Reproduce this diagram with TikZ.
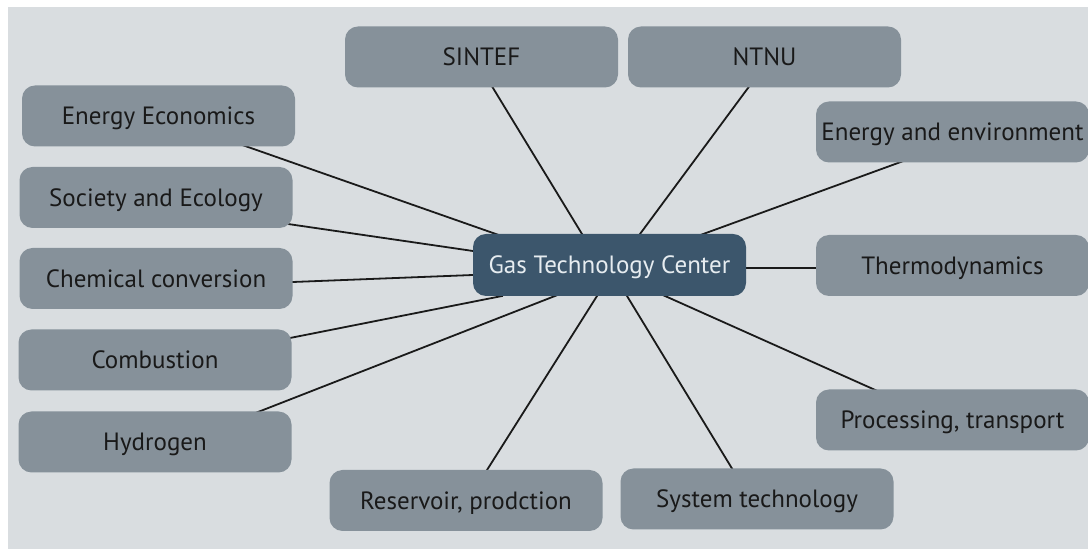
\documentclass[tikz,border=0pt]{standalone}
\usepackage{fontspec}
\setmainfont{PT Sans}
\usepackage{tikz}
\usetikzlibrary{calc}

\definecolor{panel}{HTML}{D9DDE0}
\definecolor{topicbox}{HTML}{86919A}
\definecolor{hubbox}{HTML}{3C566C}
\definecolor{hubtext}{HTML}{E6ECF0}
\definecolor{linkcol}{HTML}{1A1A1A}

\pgfdeclarelayer{bg}
\pgfdeclarelayer{edges}
\pgfsetlayers{bg,edges,main}

\tikzset{
  topic/.style={fill=topicbox,rounded corners=6.5pt,minimum width=136.5pt,minimum height=30.5pt,
    inner sep=0pt,text depth=0pt,text=black!90,font=\fontsize{12.5}{14}\selectfont},
  hub/.style={topic,fill=hubbox,text=hubtext,minimum height=31pt},
  link/.style={draw=linkcol,line width=0.9pt,shorten <=-3pt,shorten >=-3pt}
}

\begin{document}
\begin{tikzpicture}[x=0.5pt,y=-0.5pt]
\useasboundingbox (0,0) rectangle (1088,549);
\begin{pgfonlayer}{bg}
\fill[panel] (8,7) rectangle (1088,549);
\end{pgfonlayer}

\node[hub] (gtc) at (609.5,265) {Gas Technology Center};
\node[topic] (sintef) at (481.5,57) {SINTEF};
\node[topic] (ntnu) at (764.5,57) {NTNU};
\node[topic] (ee) at (158.5,116) {Energy Economics};
\node[topic] (soc) at (156,197.5) {Society and Ecology};
\node[topic] (chem) at (156,278.5) {Chemical conversion};
\node[topic] (comb) at (155,360) {Combustion};
\node[topic] (hyd) at (155,442) {Hydrogen};
\node[topic] (env) at (952.5,132) {Energy and environment};
\node[topic] (thermo) at (952.5,265.5) {Thermodynamics};
\node[topic] (proc) at (952.5,420) {Processing, transport};
\node[topic] (res) at (466,500.5) {Reservoir, prodction};
\node[topic] (sys) at (757,499) {System technology};

\begin{pgfonlayer}{edges}
\path[link] ([shift={(89.5,31)}]ee.center) -- ([shift={(-116.5,-32)}]gtc.center);
\path[link] ([shift={(132,26.5)}]soc.center) -- ([shift={(-136.5,-14)}]gtc.center);
\path[link] ([shift={(137,3.5)}]chem.center) -- ([shift={(-136.5,10)}]gtc.center);
\path[link] ([shift={(135,-22)}]comb.center) -- ([shift={(-112.5,32)}]gtc.center);
\path[link] ([shift={(103,-30)}]hyd.center) -- ([shift={(-54.5,31)}]gtc.center);
\path[link] ([shift={(11.5,31)}]sintef.center) -- ([shift={(-27.5,-31)}]gtc.center);
\path[link] ([shift={(-16.5,31)}]ntnu.center) -- ([shift={(30.5,-31)}]gtc.center);
\path[link] ([shift={(-54.5,31)}]env.center) -- ([shift={(96.5,-32)}]gtc.center);
\path[link] ([shift={(-135.5,2.5)}]thermo.center) -- ([shift={(137.5,3)}]gtc.center);
\path[link] ([shift={(-79.5,-31)}]proc.center) -- ([shift={(55.5,31)}]gtc.center);
\path[link] ([shift={(-25,-30.5)}]sys.center) -- ([shift={(17.5,31)}]gtc.center);
\path[link] ([shift={(21,-30.5)}]res.center) -- ([shift={(-12.5,31)}]gtc.center);
\end{pgfonlayer}
\end{tikzpicture}
\end{document}
